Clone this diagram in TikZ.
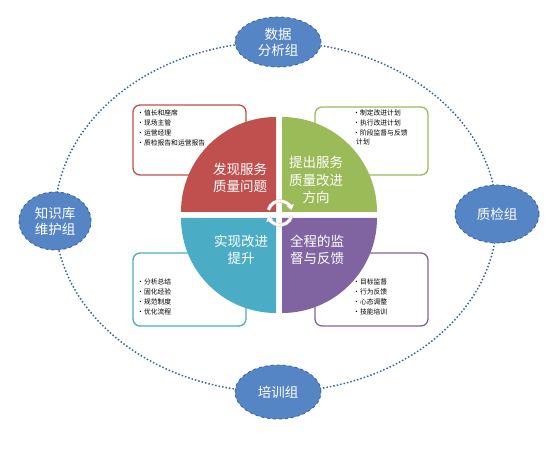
\documentclass[tikz,border=0pt]{standalone}
\usepackage{fontspec}
\newfontfamily\cjk{Noto Sans CJK SC}
\usetikzlibrary{arrows.meta,positioning,shapes.geometric}
\definecolor{qred}{HTML}{C0504D}
\definecolor{qgreen}{HTML}{9BBB59}
\definecolor{qteal}{HTML}{4BACC6}
\definecolor{qpurple}{HTML}{8064A2}
\definecolor{grpfill}{HTML}{5585C4}
\definecolor{grpline}{HTML}{3A659E}
\begin{document}
\begin{tikzpicture}[x=1pt,y=1pt,>=Stealth,font=\cjk,
 grp/.style={ellipse,draw=grpline,fill=grpfill,dashed,line width=0.9pt,text=white,font=\cjk\fontsize{13.5}{16}\selectfont,align=center,inner sep=0pt},
 itembox/.style={fill=white,line width=1.3pt,rounded corners=7pt},
 qtext/.style={text=white,font=\cjk\fontsize{13.5}{17.5}\selectfont,align=center},
 item/.style={anchor=west,font=\cjk\fontsize{6.8}{8}\selectfont,inner sep=0pt}]
\useasboundingbox (0,0) rectangle (560,448);
% outer ring and the four groups
\draw[grpline,dotted,line width=1.5pt] (276,231) ellipse [x radius=221,y radius=175];
\node[grp,minimum width=86,minimum height=50] (data) at (278,406) {数据\\分析组};
\node[grp,minimum width=86,minimum height=54] (train) at (278,56) {培训组};
\node[grp,minimum width=72,minimum height=58] (know) at (55,227) {知识库\\维护组};
\node[grp,minimum width=84,minimum height=58] (qc) at (497,234) {质检组};
% item boxes behind the circle
\draw[itembox,draw=qred] (133,273) rectangle (246,343);
\draw[itembox,draw=qgreen] (315,273) rectangle (428,341);
\draw[itembox,draw=qteal] (133,122) rectangle (246,195);
\draw[itembox,draw=qpurple] (315,122) rectangle (428,195);
\foreach \t [count=\k] in {值长和座席,现场主管,运营经理,质检报告和运营报告}
  \node[item] (r\k) at (137,345-10*\k) {•\t};
\foreach \t [count=\k] in {制定改进计划,执行改进计划,阶段监督与反馈}
  \node[item] (g\k) at (353,345-10*\k) {•\t};
\node[item,right=3pt of g3.south west,anchor=north west,yshift=-2pt] (g4) {计划};
\foreach \t [count=\k] in {分析总结,固化经验,规范制度,优化流程}
  \node[item] (t\k) at (137,176-10*\k) {•\t};
\foreach \t [count=\k] in {目标监督,行为反馈,心态调整,技能培训}
  \node[item] (p\k) at (353,176-10*\k) {•\t};
% the four quadrants
\fill[qred] (276,236) -- ++(-95,0) arc[start angle=180,end angle=90,radius=95] -- cycle;
\fill[qgreen] (282,236) -- ++(0,95) arc[start angle=90,end angle=0,radius=95] -- cycle;
\fill[qteal] (276,230) -- ++(0,-95) arc[start angle=270,end angle=180,radius=95] -- cycle;
\fill[qpurple] (282,230) -- ++(95,0) arc[start angle=0,end angle=-90,radius=95] -- cycle;
\node[qtext] (find) at (240,270) {发现服务\\质量问题};
\node[qtext] (plan) at (316,268) {提出服务\\质量改进\\方向};
\node[qtext] (act) at (241,198) {实现改进\\提升};
\node[qtext] (check) at (317,198) {全程的监\\督与反馈};
% turning arrows in the middle
\coordinate (mid) at (280,235);
\begin{scope}[shift={(mid)}]
\draw[qred!35,line width=3.6pt] (165:12) arc[start angle=165,end angle=20,radius=12];
\draw[qred!35,line width=3.6pt] (-15:12) arc[start angle=-15,end angle=-160,radius=12];
\draw[white,line width=2.4pt,-{Triangle[length=5pt,width=7pt]}] (165:12) arc[start angle=165,end angle=15,radius=12];
\draw[white,line width=2.4pt,-{Triangle[length=5pt,width=7pt]}] (-15:12) arc[start angle=-15,end angle=-165,radius=12];
\end{scope}
\end{tikzpicture}
\end{document}
